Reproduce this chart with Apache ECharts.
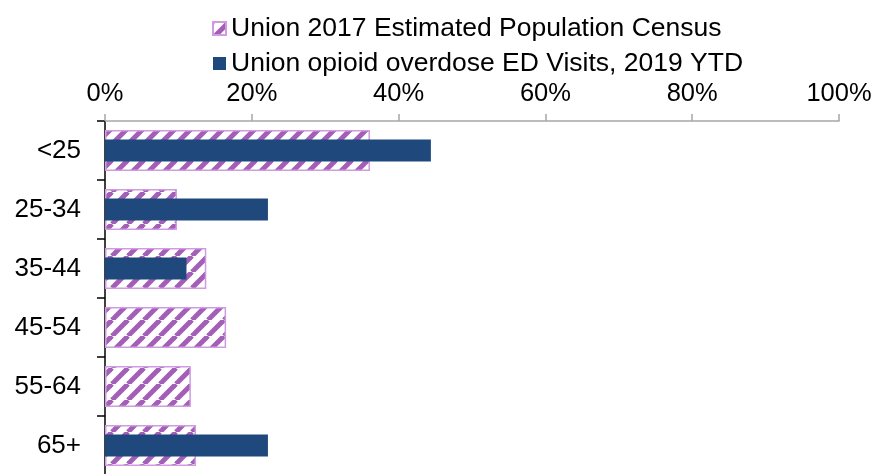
<!DOCTYPE html>
<html>
<head>
<meta charset="utf-8">
<script src="https://cdn.jsdelivr.net/npm/echarts@6/dist/echarts.min.js"></script>
<style>html,body{margin:0;padding:0;background:#fff}#c{width:876px;height:474px}</style>
</head>
<body>
<div id="c"></div>
<script>
const categories = ['<25', '25-34', '35-44', '45-54', '55-64', '65+'];
const censusName = 'Union 2017 Estimated Population Census';
const censusValues = [0.361, 0.098, 0.138, 0.165, 0.117, 0.124];
const edName = 'Union opioid overdose ED Visits, 2019 YTD';
const edValues = [0.444, 0.222, 0.111, 0, 0, 0.222];
const xTicks = [0, 0.2, 0.4, 0.6, 0.8, 1];

function makeHatch(size, color, lw) {
  const c = document.createElement('canvas');
  c.width = size; c.height = size;
  const g = c.getContext('2d');
  g.fillStyle = '#ffffff';
  g.fillRect(0, 0, size, size);
  g.strokeStyle = color;
  g.lineWidth = lw;
  for (let k = -1; k <= 1; k++) {
    g.beginPath();
    g.moveTo(k * size, size);
    g.lineTo(k * size + size, 0);
    g.stroke();
  }
  return c;
}

const hatch = makeHatch(16, '#a35fb8', 5);
const font = 'Liberation Sans, Arial, sans-serif';
const chart = echarts.init(document.getElementById('c'), null, {renderer: 'canvas'});
chart.setOption({
  animation: false,
  textStyle: {fontFamily: font},
  legend: {
    orient: 'vertical',
    left: 207, top: 10,
    itemGap: 8,
    itemWidth: 13, itemHeight: 13,
    textStyle: {fontSize: 26.5, color: '#000', fontFamily: font},
    data: [
      {name: censusName, icon: 'rect'},
      {name: edName, icon: 'rect'}
    ]
  },
  grid: {left: 105, right: 37, top: 121, bottom: -1, outerBoundsMode: 'none', containLabel: false},
  xAxis: {
    type: 'value', position: 'top', min: xTicks[0], max: xTicks[xTicks.length - 1], interval: 0.2,
    axisLine: {show: true, lineStyle: {color: '#a6a6a6', width: 1.5}},
    axisTick: {show: true, length: 7, lineStyle: {color: '#a6a6a6', width: 1.5}},
    splitLine: {show: false},
    axisLabel: {fontSize: 25.5, color: '#000', margin: 14, fontFamily: font,
      formatter: v => Math.round(v * 100) + '%'}
  },
  yAxis: [{
    type: 'category', inverse: true, data: categories,
    axisLine: {show: true, lineStyle: {color: '#000', width: 1.5}},
    axisTick: {show: true, length: 8, lineStyle: {color: '#000', width: 1.5}},
    axisLabel: {fontSize: 26, color: '#000', margin: 24, fontFamily: font}
  }, {
    type: 'category', inverse: true, data: categories, show: false
  }],
  series: [{
    name: censusName, type: 'bar', yAxisIndex: 0, data: censusValues, barWidth: 41,
    itemStyle: {color: {image: hatch, repeat: 'repeat'}, borderColor: '#d09be0', borderWidth: 1.5}
  }, {
    name: edName, type: 'bar', yAxisIndex: 1, data: edValues, barWidth: 22,
    itemStyle: {color: '#1f497d'}
  }]
});
</script>
</body>
</html>
